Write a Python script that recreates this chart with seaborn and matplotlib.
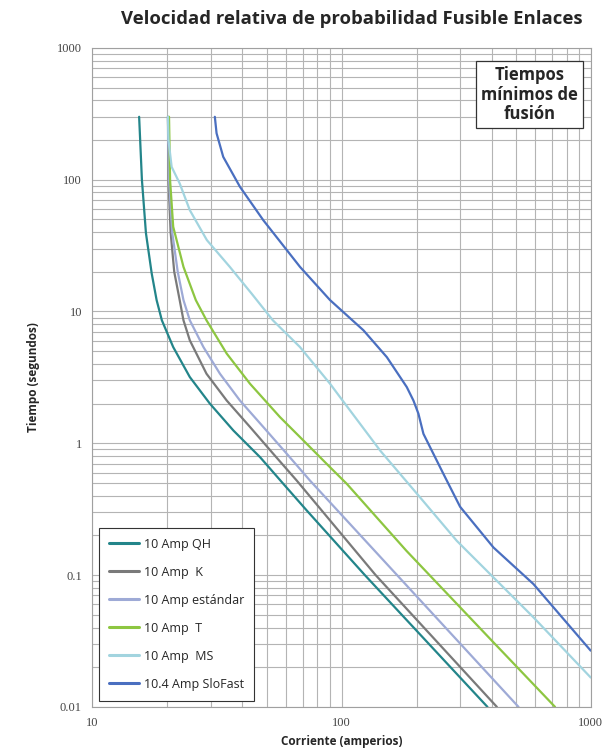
import numpy as np
import pandas as pd
import seaborn as sns
import matplotlib.pyplot as plt

# curve readings (current in A, time in s)
qh_amps = [15.4, 15.8, 16.4, 17.3, 18.1, 19.0, 21.1, 24.6, 29.6, 36.8, 47.1, 58.4, 72.5, 124, 385]
qh_secs = [300, 100, 39.3, 19.4, 12.2, 8.57, 5.37, 3.18, 2.0, 1.25, 0.784, 0.492, 0.309, 0.1, 0.01]

k_amps = [20.1, 20.2, 20.6, 21.3, 22.4, 23.2, 24.6, 28.7, 34.6, 42.9, 53.2, 66.1, 137, 420]
k_secs = [300, 100, 40, 20, 12.2, 8.57, 6.04, 3.37, 2.11, 1.33, 0.832, 0.521, 0.1, 0.01]

std_amps = [20.1, 20.3, 20.9, 22.0, 23.2, 24.6, 27.9, 32.5, 39.1, 48.5, 60.3, 74.7, 167, 513]
std_secs = [300, 100, 40, 20, 12.2, 8.57, 5.37, 3.37, 2.11, 1.33, 0.832, 0.521, 0.1, 0.01]

t_amps = [20.3, 20.5, 21.1, 23.2, 26.0, 28.7, 34.6, 42.9, 56.6, 72.5, 89.9, 105, 182, 390, 719]
t_secs = [300, 99, 43.9, 21.8, 12.2, 8.57, 4.79, 2.83, 1.58, 0.99, 0.658, 0.492, 0.153, 0.0336, 0.01]

ms_amps = [20.1, 20.2, 20.8, 22.4, 24.6, 28.8, 35.6, 43.5, 53.0, 68.1, 89.9, 98.6, 142.9, 206.5, 290, 589, 1000]
ms_secs = [300, 200, 125, 93.7, 58.7, 34.8, 21.8, 13.7, 8.57, 5.37, 2.83, 2.24, 0.88, 0.389, 0.182, 0.0478, 0.0167]

sf_amps = [31.0, 31.5, 33.5, 39.1, 48.5, 68.1, 89.9, 122.4, 152, 182.7, 194.3, 203.4, 213.1, 226.7, 256.3,
           299, 407, 589, 1000]
sf_secs = [300, 225, 149, 88.3, 49.3, 21.8, 12.2, 7.2, 4.5, 2.67, 2.11, 1.68, 1.18, 0.933, 0.586,
           0.33, 0.162, 0.0855, 0.0267]

names = ["10 Amp QH", "10 Amp  K", "10 Amp estándar", "10 Amp  T", "10 Amp  MS", "10.4 Amp SloFast"]
colors = ["#23858a", "#7a7a7a", "#9eaad6", "#8dc641", "#a2d4df", "#4a6fc0"]

curves = [(qh_amps, qh_secs), (k_amps, k_secs), (std_amps, std_secs),
          (t_amps, t_secs), (ms_amps, ms_secs), (sf_amps, sf_secs)]
frames = []
for name, (a, s) in zip(names, curves):
    frames.append(pd.DataFrame({"Corriente": a, "Tiempo": s, "Fusible": name}))
df = pd.concat(frames, ignore_index=True)

sns.set_style("white")
plt.rcParams['font.family'] = ['Open Sans', 'DejaVu Sans']

fig = plt.figure(figsize=(6.04, 7.54), dpi=100)
ax = fig.add_axes([0.153, 0.0625, 0.825, 0.874])

sns.lineplot(data=df, x="Corriente", y="Tiempo", hue="Fusible", hue_order=names,
             palette=colors, estimator=None, sort=False, linewidth=1.6, ax=ax)

ax.set_xscale("log")
ax.set_yscale("log")
ax.set_xlim(10, 1000)
ax.set_ylim(0.01, 1000)

ax.grid(True, which="both", color="#b4b4b4", linewidth=0.8)
for sp in ax.spines.values():
    sp.set_color("#a0a0a0")
    sp.set_linewidth(0.8)

ax.set_xticks([10, 100, 1000])
ax.set_xticklabels(["10", "100", "1000"])
ax.set_yticks([0.01, 0.1, 1, 10, 100, 1000])
ax.set_yticklabels(["0.01", "0.1", "1", "10", "100", "1000"])
ax.tick_params(which="major", length=4, color="#999999", labelsize=9, labelcolor="#444444")
ax.tick_params(which="minor", length=0)
for lab in ax.get_xticklabels() + ax.get_yticklabels():
    lab.set_family("Liberation Serif")

ax.set_xlabel("Corriente (amperios)", fontsize=8.5, fontweight="bold", labelpad=4)
ax.set_ylabel("Tiempo (segundos)", fontsize=8.5, fontweight="bold", labelpad=12)

fig.suptitle("Velocidad relativa de probabilidad Fusible Enlaces", x=0.582, y=0.987,
             fontsize=13.3, fontweight="bold")

leg = ax.legend(loc="lower left", bbox_to_anchor=(0.0, 0.0), fontsize=9, handlelength=2.4,
                handletextpad=0.4, labelspacing=1.2, borderpad=0.8, borderaxespad=0.5,
                fancybox=False, framealpha=1, edgecolor="#333333", title=None)
leg.get_frame().set_linewidth(0.8)
for line in leg.get_lines():
    line.set_linewidth(2.2)

ax.text(0.877, 0.929, "Tiempos\nmínimos de\nfusión", transform=ax.transAxes, ha="center", va="center",
        fontsize=12, fontweight="bold", linespacing=1.1,
        bbox=dict(boxstyle="square,pad=0.3", facecolor="white", edgecolor="#333333", linewidth=0.9))

fig.savefig("out.png", dpi=100)
